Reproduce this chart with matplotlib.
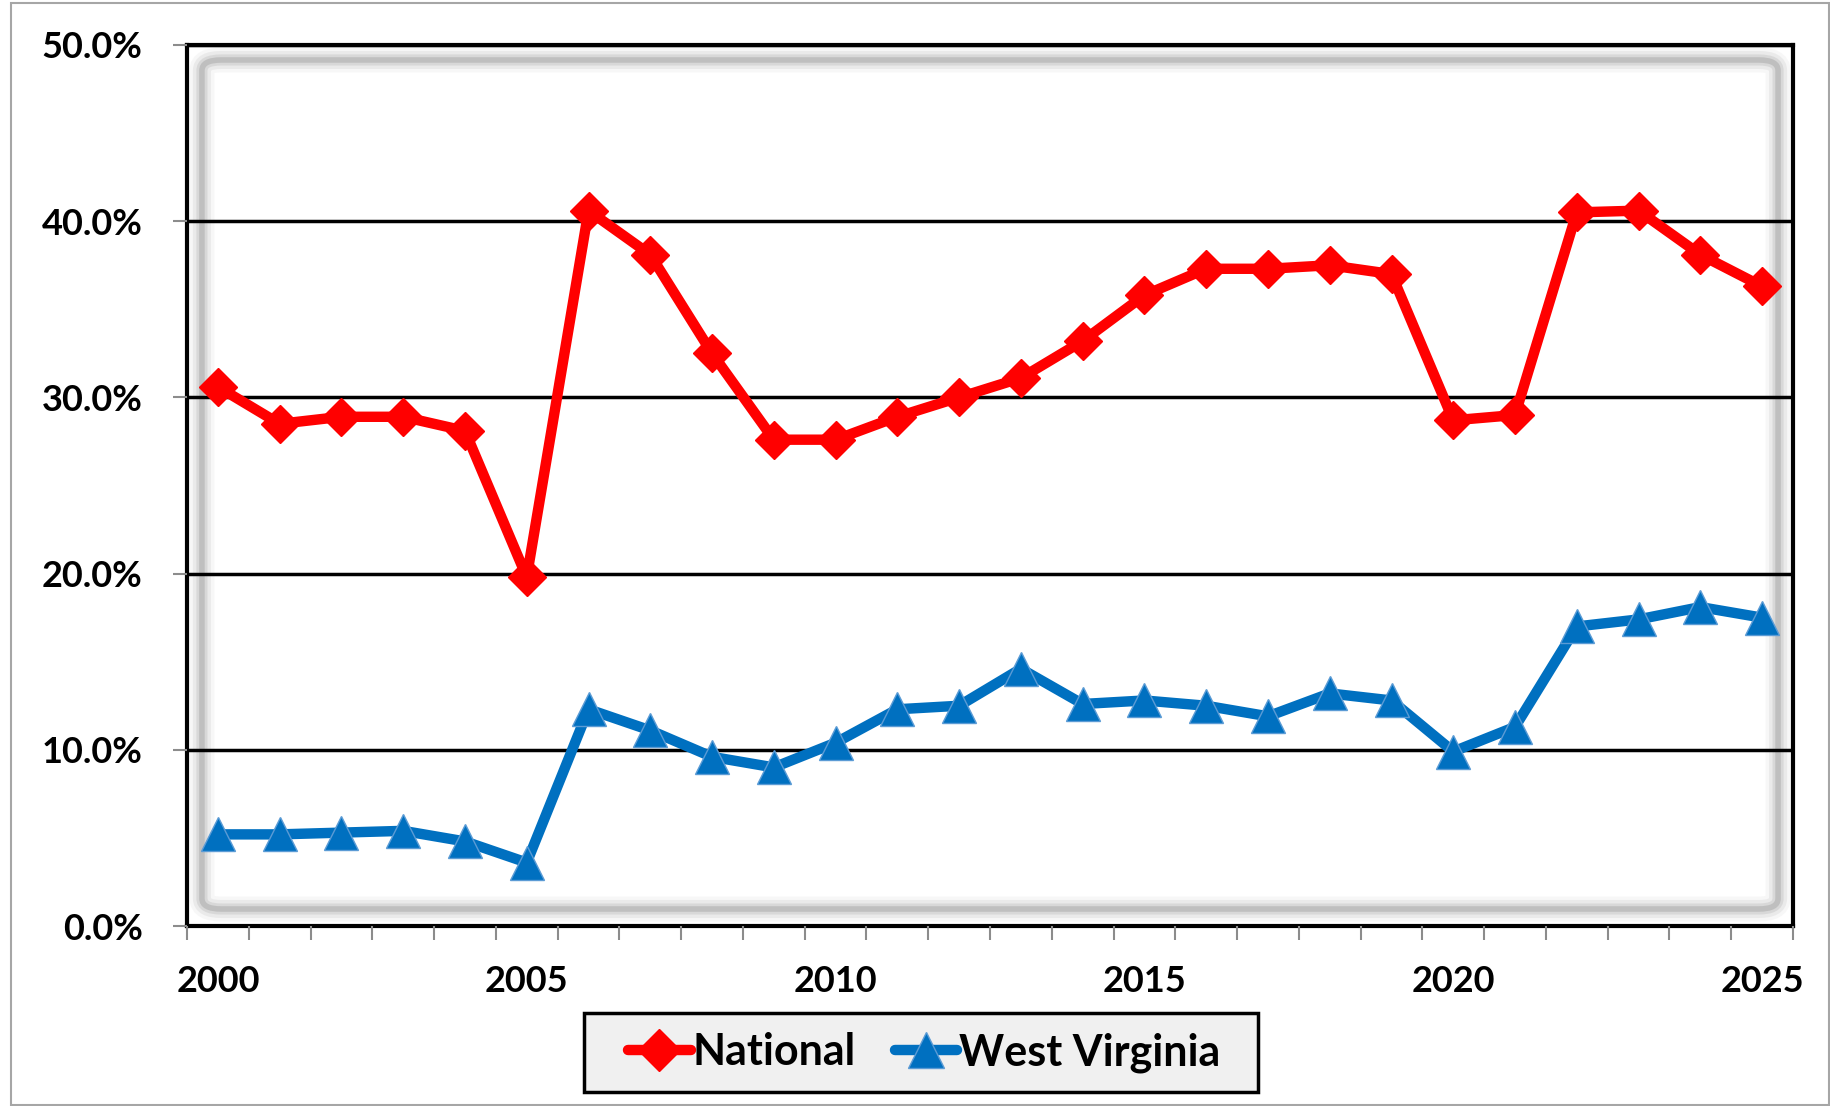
import matplotlib.pyplot as plt
import numpy as np
from matplotlib.patches import FancyBboxPatch, Rectangle

years = list(range(2000, 2026))
national = [30.6, 28.5, 28.9, 28.9, 28.1, 19.8, 40.6, 38.1, 32.5, 27.6,
            27.6, 28.9, 30.0, 31.1, 33.2, 35.8, 37.3, 37.3, 37.5, 37.0,
            28.7, 29.0, 40.5, 40.6, 38.1, 36.3]
west_virginia = [5.2, 5.2, 5.3, 5.4, 4.8, 3.6, 12.3, 11.1, 9.6, 9.0,
                 10.4, 12.3, 12.5, 14.6, 12.6, 12.8, 12.5, 11.9, 13.2, 12.8,
                 9.9, 11.3, 17.0, 17.4, 18.1, 17.5]
y_ticks = [0, 10, 20, 30, 40, 50]
x_labels = [2000, 2005, 2010, 2015, 2020, 2025]

plt.rcParams["font.family"] = ["Lato", "DejaVu Sans"]
plt.rcParams["font.weight"] = "bold"

fig = plt.figure(figsize=(18.31, 11.06), dpi=100)
ax = fig.add_axes([187 / 1831, 1 - 926 / 1106, 1606 / 1831, 881 / 1106])

x = np.arange(len(years))

# soft inner shadow of the plot area
for lw, a in [(18, 0.07), (13, 0.13), (8, 0.22), (4, 0.4)]:
    ax.add_patch(FancyBboxPatch((0.0093, 0.0193), 0.9814, 0.9637,
                                boxstyle="round,pad=0,rounding_size=0.012",
                                transform=ax.transAxes, fill=False,
                                edgecolor="#9a9a9a", lw=lw, alpha=a, zorder=0.5))

ax.plot(x, [v / 100 for v in national], color="#FF0000", lw=7.5, marker="D",
        markersize=19, label="National", zorder=3, solid_capstyle="round")
ax.plot(x, [v / 100 for v in west_virginia], color="#0070C0", lw=7.5, marker="^",
        markersize=24, markeredgecolor="#5b9bd5", markeredgewidth=1,
        label="West Virginia", zorder=3, solid_capstyle="round")

ax.set_xlim(-0.5, len(years) - 0.5)
ax.set_ylim(0, 0.5)
ax.set_yticks([t / 100 for t in y_ticks])
ax.set_yticklabels([f"{t:.1f}%" for t in y_ticks])
ax.set_xticks([years.index(y) for y in x_labels])
ax.set_xticklabels([str(y) for y in x_labels])
ax.set_xticks(np.arange(-0.5, len(years), 1), minor=True)

ax.tick_params(axis="y", length=10, width=1.5, color="#8c8c8c", pad=22, labelsize=26)
ax.tick_params(axis="x", which="major", length=0, pad=28, labelsize=26)
ax.tick_params(axis="x", which="minor", length=10, width=1.5, color="#8c8c8c")

ax.grid(axis="y", color="black", lw=2.5, zorder=1)
ax.set_axisbelow(False)
for name, sp in ax.spines.items():
    sp.set_color("black")
    sp.set_linewidth(3)
    sp.set_zorder(2)

# legend box drawn separately so it can be wider than the entries
fig.patches.append(Rectangle((584 / 1831, 1 - 1092 / 1106), 674 / 1831, 79 / 1106,
                             transform=fig.transFigure, facecolor="#F0F0F0",
                             edgecolor="black", lw=2.5))
leg = fig.legend(loc="center", bbox_to_anchor=(0.5048, 0.0485), ncol=2,
                 fontsize=31, frameon=False, handlelength=1.45,
                 handletextpad=0.05, columnspacing=0.9, borderpad=0.35,
                 markerscale=1.1)

fig.patches.append(Rectangle((11 / 1831, 0.001), 1818 / 1831, 1 - 3 / 1106 - 0.001,
                             transform=fig.transFigure, fill=False,
                             edgecolor="#a6a6a6", lw=1.5))

fig.savefig("out.png", dpi=100)
